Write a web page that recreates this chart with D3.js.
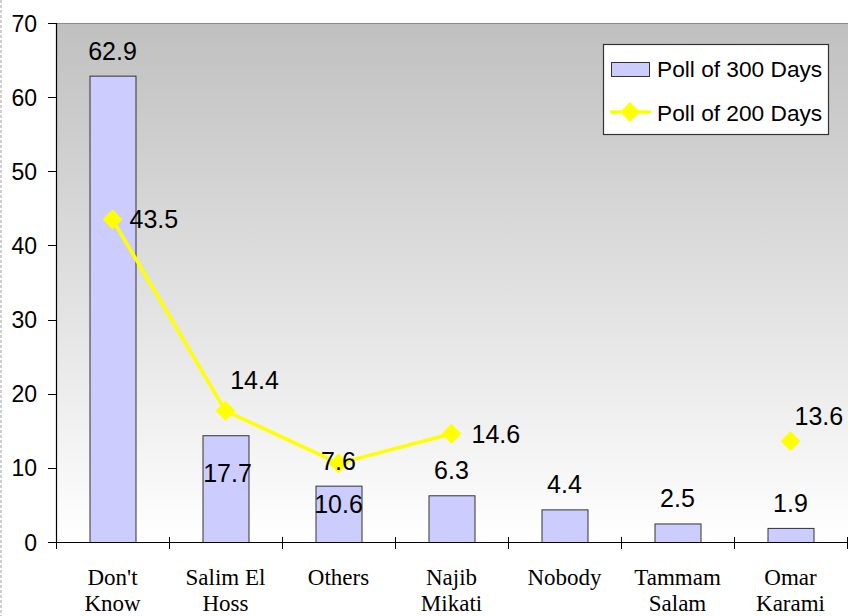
<!DOCTYPE html>
<html><head><meta charset="utf-8">
<script src="https://cdn.jsdelivr.net/npm/d3@7"></script>
<style>html,body{margin:0;padding:0;background:#fff;}svg{display:block;}</style>
</head><body>
<svg id="chart" width="848" height="616"></svg>
<script>
// ---- data ----
const categories = ["Don't Know", "Salim El Hoss", "Others", "Najib Mikati", "Nobody", "Tammam Salam", "Omar Karami"];
const categoryLines = [["Don't", "Know"], ["Salim El", "Hoss"], ["Others"], ["Najib", "Mikati"], ["Nobody"], ["Tammam", "Salam"], ["Omar", "Karami"]];
const poll300 = [62.9, 14.4, 7.6, 6.3, 4.4, 2.5, 1.9];
const poll200 = [43.5, 17.7, 10.6, 14.6, null, null, 13.6];
const yTicks = [0, 10, 20, 30, 40, 50, 60, 70];
const seriesNames = ["Poll of 300 Days", "Poll of 200 Days"];
// label placement (layout only): bar labels [dx, dy above bar top], line labels [dx, dy, anchor]
const barLabelPlacement = [[0, -16], [29, -46], [0, -16], [0, -16], [0, -16], [0, -16], [0, -16]];
const lineLabelPlacement = [[17, 9, "start"], [2, 71, "middle"], [0, 50, "middle"], [20, 9, "start"], null, null, [4, -16, "start"]];

(function () {
const svg = d3.select("#chart");
const pLeft = 56, pTop = 23, pBottom = 542;

// left-edge dashed strip
svg.append("line").attr("x1", 1).attr("x2", 1).attr("y1", 0).attr("y2", 616)
  .attr("stroke", "#d0d0d0").attr("stroke-width", 2).attr("stroke-dasharray", "3,2");

const defs = svg.append("defs");
const grad = defs.append("linearGradient").attr("id", "bg").attr("x1", 0).attr("y1", 0).attr("x2", 0).attr("y2", 1);
grad.append("stop").attr("offset", "0%").attr("stop-color", "#c0c0c0");
grad.append("stop").attr("offset", "100%").attr("stop-color", "#ffffff");

svg.append("rect").attr("x", pLeft).attr("y", pTop).attr("width", 848 - pLeft).attr("height", pBottom - pTop)
  .attr("fill", "url(#bg)");
svg.append("line").attr("x1", pLeft).attr("x2", 848).attr("y1", pTop + 0.5).attr("y2", pTop + 0.5)
  .attr("stroke", "#8a8a8a").attr("stroke-width", 1);

const x = d3.scaleBand().domain(categories).range([pLeft, pLeft + 113 * 7]).paddingInner(0).paddingOuter(0);
const y = d3.scaleLinear().domain([0, 70]).range([pBottom, pTop]);
const barW = 46;
const cx = i => x(categories[i]) + x.bandwidth() / 2;

// bars
svg.append("g").selectAll("rect").data(poll300).join("rect")
  .attr("x", (d, i) => cx(i) - barW / 2 + 0.5)
  .attr("y", d => y(d) + 0.5)
  .attr("width", barW)
  .attr("height", d => pBottom - y(d))
  .attr("fill", "#ccccff").attr("stroke", "#333333").attr("stroke-width", 1);

// y axis
const yAxis = svg.append("g");
yAxis.append("line").attr("x1", pLeft + 0.5).attr("x2", pLeft + 0.5).attr("y1", pTop).attr("y2", pBottom)
  .attr("stroke", "#000").attr("stroke-width", 1.2);
yAxis.selectAll("line.t").data(yTicks).join("line").attr("class", "t")
  .attr("x1", pLeft - 8).attr("x2", pLeft).attr("y1", d => Math.round(y(d)) + 0.5).attr("y2", d => Math.round(y(d)) + 0.5)
  .attr("stroke", "#000");
yAxis.selectAll("text").data(yTicks).join("text")
  .attr("x", pLeft - 19).attr("y", d => y(d) + 8.5)
  .attr("text-anchor", "end").attr("font-family", "Liberation Sans, Arial, sans-serif").attr("font-size", 23)
  .attr("fill", "#000").text(d => d);

// x axis
const xAxis = svg.append("g");
xAxis.append("line").attr("x1", pLeft).attr("x2", 848).attr("y1", pBottom + 0.5).attr("y2", pBottom + 0.5)
  .attr("stroke", "#000").attr("stroke-width", 1.2);
const bounds = categories.map(c => x(c)).concat([x(categories[6]) + x.bandwidth()]);
xAxis.selectAll("line.t").data(bounds).join("line").attr("class", "t")
  .attr("x1", d => Math.round(d) + 0.5).attr("x2", d => Math.round(d) + 0.5)
  .attr("y1", pBottom - 5).attr("y2", pBottom + 7).attr("stroke", "#000");
const catG = xAxis.selectAll("text").data(categoryLines).join("text")
  .attr("text-anchor", "middle").attr("font-family", "Liberation Serif, Times New Roman, serif")
  .attr("font-size", 23).attr("fill", "#000");
catG.selectAll("tspan").data((d, i) => d.map(t => ({ t, i }))).join("tspan")
  .attr("x", d => cx(d.i))
  .attr("y", (d, j) => 585 + j * 26)
  .text(d => d.t);

// line
const line = d3.line().defined(d => d != null)
  .x((d, i) => cx(i)).y(d => y(d));
svg.append("path").datum(poll200).attr("d", line)
  .attr("fill", "none").attr("stroke", "#ffff00").attr("stroke-width", 3.5).attr("stroke-linejoin", "round");
const pts = poll200.map((v, i) => ({ v, i })).filter(d => d.v != null);
svg.append("g").selectAll("rect").data(pts).join("rect")
  .attr("x", -7).attr("y", -7).attr("width", 14).attr("height", 14)
  .attr("transform", d => `translate(${cx(d.i)},${y(d.v)}) rotate(45)`)
  .attr("fill", "#ffff00");

// bar labels
svg.append("g").selectAll("text").data(poll300).join("text")
  .attr("x", (d, i) => cx(i) + barLabelPlacement[i][0])
  .attr("y", (d, i) => y(d) + barLabelPlacement[i][1])
  .attr("text-anchor", "middle").attr("font-family", "Liberation Sans, Arial, sans-serif").attr("font-size", 25)
  .attr("fill", "#000").text(d => d.toFixed(1));

// line labels
svg.append("g").selectAll("text").data(pts).join("text")
  .attr("x", d => cx(d.i) + lineLabelPlacement[d.i][0])
  .attr("y", d => y(d.v) + lineLabelPlacement[d.i][1])
  .attr("text-anchor", d => lineLabelPlacement[d.i][2])
  .attr("font-family", "Liberation Sans, Arial, sans-serif").attr("font-size", 25)
  .attr("fill", "#000").text(d => d.v.toFixed(1));

// legend
const lg = svg.append("g");
lg.append("rect").attr("x", 603.5).attr("y", 44.5).attr("width", 225).attr("height", 90)
  .attr("fill", "#fff").attr("stroke", "#333").attr("stroke-width", 1.2);
lg.append("rect").attr("x", 611.5).attr("y", 62.5).attr("width", 38).attr("height", 14)
  .attr("fill", "#ccccff").attr("stroke", "#333");
lg.append("line").attr("x1", 610).attr("x2", 651).attr("y1", 112).attr("y2", 112)
  .attr("stroke", "#ffff00").attr("stroke-width", 3.5);
lg.append("rect").attr("x", -7).attr("y", -7).attr("width", 14).attr("height", 14)
  .attr("transform", "translate(630,112) rotate(45)").attr("fill", "#ffff00");
lg.selectAll("text").data(seriesNames).join("text")
  .attr("x", 657).attr("y", (d, i) => 77 + i * 44)
  .attr("font-family", "Liberation Sans, Arial, sans-serif").attr("font-size", 22.7)
  .attr("fill", "#000").text(d => d);
})();
</script>
</body></html>
